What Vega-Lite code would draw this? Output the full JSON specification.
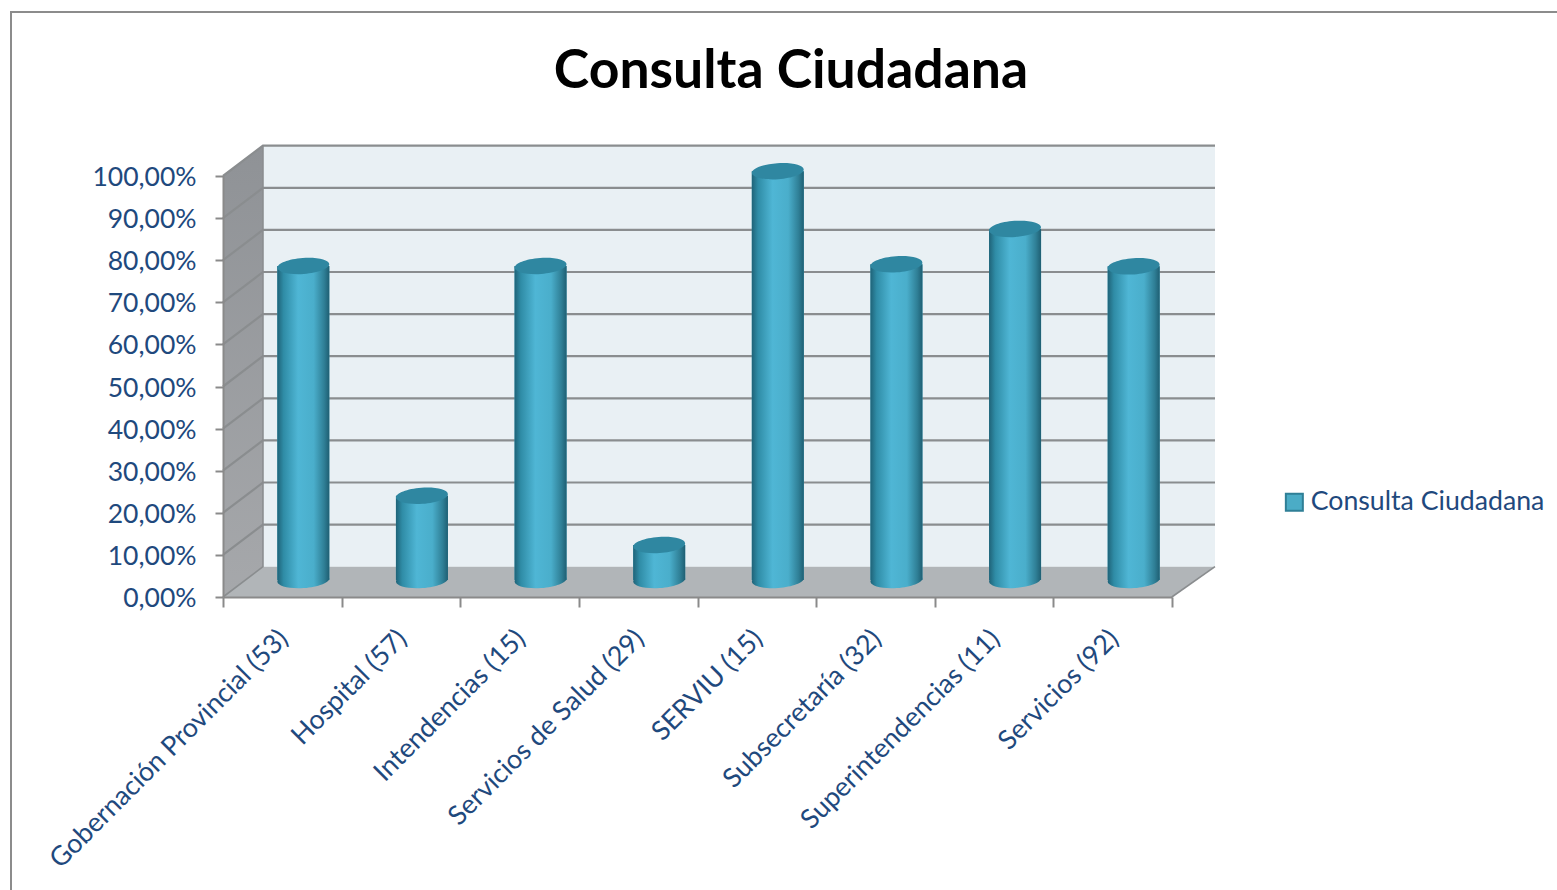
{
"$schema":"https://vega.github.io/schema/vega-lite/v6.json",
"width":1560,"height":890,
"autosize":{"type":"none"},
"padding":{"left":11,"top":12,"right":0,"bottom":0},
"background":"white",
"view":{"stroke":"#8c8c8c","strokeWidth":2,"fill":"white"},
"title":{"text":"Consulta Ciudadana","orient":"top","anchor":"middle","offset":-87,"font":"Lato","fontSize":53.5,"fontWeight":"bold","color":"#000000"},
"datasets":{
"bars":[
{"organismo":"Gobernación Provincial (53)","valor":74.6,"serie":"Consulta Ciudadana"},
{"organismo":"Hospital (57)","valor":20,"serie":"Consulta Ciudadana"},
{"organismo":"Intendencias (15)","valor":74.6,"serie":"Consulta Ciudadana"},
{"organismo":"Servicios de Salud (29)","valor":8.3,"serie":"Consulta Ciudadana"},
{"organismo":"SERVIU (15)","valor":97.1,"serie":"Consulta Ciudadana"},
{"organismo":"Subsecretaría (32)","valor":75,"serie":"Consulta Ciudadana"},
{"organismo":"Superintendencias (11)","valor":83.4,"serie":"Consulta Ciudadana"},
{"organismo":"Servicios (92)","valor":74.5,"serie":"Consulta Ciudadana"}
]
},
"resolve":{"scale":{"x":"independent"},"axis":{"x":"independent"}},
"layer":[
{"layer":[
{"data":{"values":[{"u":0,"a":0,"b":100},{"u":0.337,"a":7.2,"b":107.2}]},
 "mark":{"type":"area","fill":{"gradient":"linear","x1":0,"y1":0,"x2":0,"y2":1,"stops":[{"offset":0,"color":"#8f9296"},{"offset":1,"color":"#a6a8ab"}]},"opacity":1},
 "encoding":{"x":{"field":"u","type":"quantitative","scale":{"domain":[0,8.364],"range":[212,1204],"nice":false,"zero":false},"axis":null},
 "y":{"field":"a","type":"quantitative","scale":{"domain":[0,100],"range":[585,164],"nice":false},"axis":{"values":[0,10,20,30,40,50,60,70,80,90,100],"title":null,"grid":false,"orient":"left","offset":-212,"zindex":1,"labelExpr":"replace(format(datum.value,'.2f'),'.',',')+'%'","labelFont":"Lato","labelFontSize":26.5,"labelColor":"#1f497d","labelPadding":19,"labelOffset":1.5,"tickSize":8,"tickWidth":2,"tickColor":"#8a8a8a","domainColor":"#8a8a8a","domainWidth":2}},
 "y2":{"field":"b"}}},
{"data":{"values":[{"u":0.337,"a":7.2,"b":107.2},{"u":8.364,"a":7.2,"b":107.2}]},
 "mark":{"type":"area","fill":"#e9f0f4","opacity":1},
 "encoding":{"x":{"field":"u","type":"quantitative"},"y":{"field":"a","type":"quantitative"},"y2":{"field":"b"}}},
{"data":{"values":[{"u":0,"a":0,"b":0},{"u":0.337,"a":7.2,"b":0},{"u":8,"a":7.2,"b":0},{"u":8.364,"a":7.2,"b":7.2}]},
 "mark":{"type":"area","fill":"#b1b5b8","opacity":1},
 "encoding":{"x":{"field":"u","type":"quantitative"},"y":{"field":"a","type":"quantitative"},"y2":{"field":"b"}}},
{"data":{"values":[
{"g":10,"u":0,"v":10},{"g":10,"u":0.337,"v":17.2},{"g":10,"u":8.364,"v":17.2},
{"g":20,"u":0,"v":20},{"g":20,"u":0.337,"v":27.2},{"g":20,"u":8.364,"v":27.2},
{"g":30,"u":0,"v":30},{"g":30,"u":0.337,"v":37.2},{"g":30,"u":8.364,"v":37.2},
{"g":40,"u":0,"v":40},{"g":40,"u":0.337,"v":47.2},{"g":40,"u":8.364,"v":47.2},
{"g":50,"u":0,"v":50},{"g":50,"u":0.337,"v":57.2},{"g":50,"u":8.364,"v":57.2},
{"g":60,"u":0,"v":60},{"g":60,"u":0.337,"v":67.2},{"g":60,"u":8.364,"v":67.2},
{"g":70,"u":0,"v":70},{"g":70,"u":0.337,"v":77.2},{"g":70,"u":8.364,"v":77.2},
{"g":80,"u":0,"v":80},{"g":80,"u":0.337,"v":87.2},{"g":80,"u":8.364,"v":87.2},
{"g":90,"u":0,"v":90},{"g":90,"u":0.337,"v":97.2},{"g":90,"u":8.364,"v":97.2},
{"g":100,"u":0,"v":100},{"g":100,"u":0.337,"v":107.2},{"g":100,"u":8.364,"v":107.2}
]},
 "mark":{"type":"line","color":"#8a8d8f","strokeWidth":2.2},
 "encoding":{"x":{"field":"u","type":"quantitative"},"y":{"field":"v","type":"quantitative"},"detail":{"field":"g"},"order":{"field":"u"}}},
{"data":{"values":[{"g":0,"u":0,"v":0},{"g":0,"u":0.337,"v":7.2},{"g":0,"u":0.337,"v":107.2},{"g":1,"u":8,"v":0},{"g":1,"u":8.364,"v":7.2}]},
 "mark":{"type":"line","color":"#8a8d8f","strokeWidth":1.6},
 "encoding":{"x":{"field":"u","type":"quantitative"},"y":{"field":"v","type":"quantitative"},"detail":{"field":"g"}}}
]},
{"data":{"name":"bars"},
 "encoding":{"x":{"field":"organismo","type":"nominal","sort":null,"scale":{"type":"band","range":[212,1161],"paddingInner":0,"paddingOuter":0},
 "axis":{"title":null,"orient":"bottom","offset":-305,"zindex":1,"tickBand":"extent","labelAngle":-45,"labelAlign":"right","labelBaseline":"top","labelFont":"Lato","labelFontSize":26.8,"labelColor":"#1f497d","labelPadding":18,"labelOffset":-8,"labelOverlap":false,"labelLimit":0,"tickSize":10,"tickWidth":2,"tickColor":"#8a8a8a","domainColor":"#8a8a8a","domainWidth":2}}},
 "layer":[
 {"mark":{"type":"point","filled":true,"opacity":1,"size":2704,"xOffset":21,"yOffset":-17,"angle":-4,"shape":"M-1,0A1,0.31,0,1,1,1,0A1,0.31,0,1,1,-1,0Z","fill":{"gradient":"linear","x1":0,"y1":0,"x2":1,"y2":0,"stops":[{"offset":0,"color":"#1f6378"},{"offset":0.12,"color":"#2f8ca6"},{"offset":0.4,"color":"#4fb6d5"},{"offset":0.7,"color":"#4aaecb"},{"offset":0.9,"color":"#2f7f96"},{"offset":1,"color":"#1f5f73"}]}},
  "encoding":{"y":{"datum":0,"type":"quantitative"}}},
 {"mark":{"type":"bar","width":52,"xOffset":21,"yOffset":-17,"y2Offset":-17},
  "encoding":{"y":{"field":"valor","type":"quantitative"},"y2":{"datum":0},
  "color":{"field":"serie","type":"nominal","title":null,"scale":{"range":["#4bacc6"]},
  "legend":{"orient":"none","legendX":1270,"legendY":477,"symbolType":"square","symbolSize":289,"symbolStrokeColor":"#2f7f96","symbolStrokeWidth":2,"labelFont":"Lato","labelFontSize":26.7,"labelColor":"#1f497d","labelLimit":0,"labelOffset":3,"padding":0}}}},
 {"mark":{"type":"bar","width":52,"xOffset":21,"yOffset":-17,"y2Offset":-17,"fill":{"gradient":"linear","x1":0,"y1":0,"x2":1,"y2":0,"stops":[{"offset":0,"color":"#1f6378"},{"offset":0.12,"color":"#2f8ca6"},{"offset":0.4,"color":"#4fb6d5"},{"offset":0.7,"color":"#4aaecb"},{"offset":0.9,"color":"#2f7f96"},{"offset":1,"color":"#1f5f73"}]}},
  "encoding":{"y":{"field":"valor","type":"quantitative"},"y2":{"datum":0}}},
 {"mark":{"type":"point","filled":true,"opacity":1,"size":2704,"color":"#2f87a1","xOffset":21,"yOffset":-17,"angle":-4,"shape":"M-1,0A1,0.31,0,1,1,1,0A1,0.31,0,1,1,-1,0Z"},
  "encoding":{"y":{"field":"valor","type":"quantitative"}}}
 ]}
]
}
